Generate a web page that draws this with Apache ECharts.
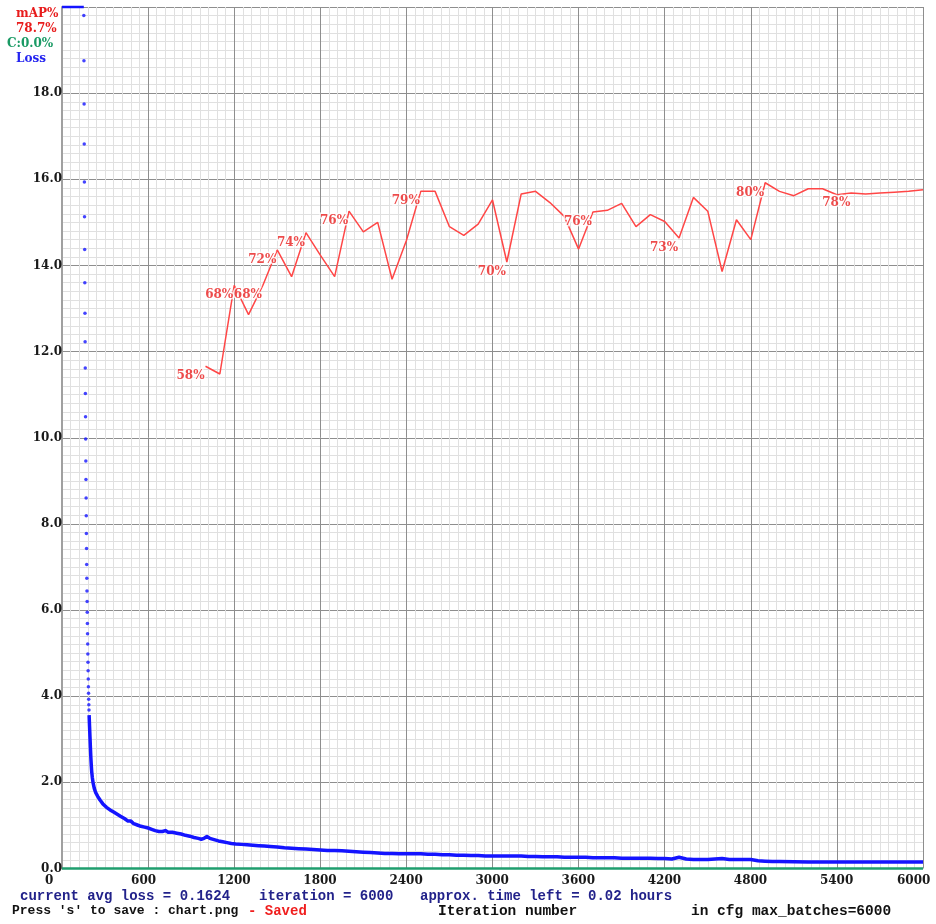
<!DOCTYPE html>
<html>
<head>
<meta charset="utf-8">
<title>chart.png</title>
<script src="https://cdn.jsdelivr.net/npm/echarts@6/dist/echarts.min.js"></script>
<style>
    html,
    body {
        margin: 0;
        padding: 0;
        background: #fff;
    }
    #chart {
        width: 936px;
        height: 924px;
    }
</style>
</head>
<body>
<div id="chart"></div>
<script>
// Darknet training chart: loss (left scale 0-20) and mAP% (0-100 mapped on the same height)

// loss above the top of the scale is drawn clamped at 20
const lossClampIters = [0, 152];
const lossClampValues = [20, 20];

// first iterations, one dot each
const lossDotIters = [152, 153, 154, 155, 156, 157, 158, 159, 160, 161, 162, 163, 164,
    165, 166, 167, 168, 169, 170, 171, 172, 173, 174, 175, 176, 177, 178, 179, 180,
    181, 182, 183, 184, 185, 186, 187, 188];
const lossDotValues = [19.80, 18.75, 17.75, 16.82, 15.94, 15.13, 14.37, 13.60, 12.89,
    12.23, 11.62, 11.03, 10.49, 9.97, 9.46, 9.03, 8.60, 8.19, 7.78, 7.43, 7.06, 6.74,
    6.44, 6.20, 5.95, 5.69, 5.45, 5.21, 4.98, 4.79, 4.59, 4.40, 4.22, 4.07, 3.93, 3.80, 3.68];

// the rest of the loss curve
const lossIters = [189, 192, 195, 198, 201, 204, 207, 211, 216, 225, 235, 250, 265, 285,
    310, 335, 360, 385, 410, 435, 460, 470, 480, 500, 525, 550, 575, 600, 625, 650, 675,
    700, 720, 740, 770, 800, 830, 860, 890, 920, 950, 970, 990, 1010, 1030, 1060, 1090,
    1120, 1150, 1180, 1210, 1250, 1290, 1330, 1370, 1410, 1450, 1500, 1550, 1600, 1650,
    1700, 1750, 1800, 1850, 1900, 1950, 2000, 2050, 2100, 2150, 2200, 2250, 2300, 2350,
    2400, 2450, 2500, 2550, 2600, 2650, 2700, 2750, 2800, 2850, 2900, 2950, 3000, 3050,
    3100, 3150, 3200, 3250, 3300, 3350, 3400, 3450, 3500, 3550, 3600, 3650, 3700, 3750,
    3800, 3850, 3900, 3950, 4000, 4050, 4100, 4150, 4200, 4250, 4300, 4350, 4400, 4450,
    4500, 4550, 4600, 4650, 4700, 4750, 4800, 4850, 4900, 4950, 5000, 5100, 5200, 5300,
    5400, 5500, 5600, 5700, 5800, 5900, 6000];
const lossValues = [3.56, 3.30, 3.05, 2.80, 2.58, 2.40, 2.25, 2.12, 2.00, 1.86, 1.76, 1.67,
    1.59, 1.50, 1.42, 1.36, 1.31, 1.26, 1.21, 1.16, 1.10, 1.07, 1.10, 1.04, 1.01, 0.98,
    0.96, 0.94, 0.91, 0.88, 0.86, 0.86, 0.88, 0.84, 0.84, 0.82, 0.80, 0.77, 0.75, 0.72,
    0.70, 0.68, 0.70, 0.74, 0.70, 0.67, 0.64, 0.62, 0.60, 0.58, 0.57, 0.56, 0.55, 0.54,
    0.53, 0.52, 0.51, 0.50, 0.48, 0.47, 0.46, 0.45, 0.44, 0.43, 0.42, 0.42, 0.41, 0.40,
    0.39, 0.38, 0.37, 0.36, 0.35, 0.35, 0.34, 0.34, 0.34, 0.34, 0.33, 0.33, 0.32, 0.32,
    0.31, 0.31, 0.30, 0.30, 0.29, 0.29, 0.29, 0.29, 0.29, 0.29, 0.28, 0.28, 0.27, 0.27,
    0.27, 0.26, 0.26, 0.26, 0.26, 0.25, 0.25, 0.25, 0.25, 0.24, 0.24, 0.24, 0.24, 0.24,
    0.23, 0.23, 0.22, 0.26, 0.22, 0.21, 0.21, 0.21, 0.22, 0.23, 0.21, 0.21, 0.21, 0.21,
    0.18, 0.17, 0.16, 0.16, 0.155, 0.15, 0.15, 0.15, 0.15, 0.15, 0.15, 0.15, 0.15, 0.15];

// contrastive accuracy, flat at 0
const contrastIters = [0, 6000];
const contrastValues = [0, 0];

// mAP% measured every 100 iterations from 1000
const mapIters = [1000, 1100, 1200, 1300, 1400, 1500, 1600, 1700, 1800, 1900, 2000, 2100,
    2200, 2300, 2400, 2500, 2600, 2700, 2800, 2900, 3000, 3100, 3200, 3300, 3400, 3500,
    3600, 3700, 3800, 3900, 4000, 4100, 4200, 4300, 4400, 4500, 4600, 4700, 4800, 4900,
    5000, 5100, 5200, 5300, 5400, 5500, 5600, 5700, 5800, 5900, 6000];
const mapValues = [58.3, 57.4, 67.7, 64.3, 67.7, 71.8, 68.7, 73.8, 71.2, 68.7, 76.3, 73.9,
    75.0, 68.4, 72.9, 78.6, 78.6, 74.5, 73.5, 74.8, 77.6, 70.4, 78.3, 78.6, 77.3, 75.7,
    71.9, 76.2, 76.4, 77.2, 74.5, 75.9, 75.1, 73.2, 77.9, 76.3, 69.3, 75.3, 73.0, 79.6,
    78.6, 78.1, 78.9, 78.9, 78.2, 78.4, 78.3, 78.4, 78.5, 78.6, 78.8];
// iterations where the chart printed the mAP value
const mapLabelIters = [1000, 1200, 1400, 1500, 1700, 2000, 2500, 3100, 3700, 4300, 4900, 5500];

const xTickStep = 600;
const yTickStep = 2;

const zip = (xs, ys) => xs.map((x, i) => [x, ys[i]]);

const chart = echarts.init(document.getElementById("chart"));

const axisFont = {
    fontFamily: "DejaVu Serif",
    fontWeight: "bold",
    fontSize: 12,
    color: "#1a1a1a",
};
const monoFont = "bold 14px 'Liberation Mono'";
const cornerFont = "bold 12px 'DejaVu Serif'";

const textItem = (left, top, text, fill, font) => ({
    type: "text",
    left,
    top,
    style: { text, fill, font: font || monoFont },
});

const options = {
    animation: false,
    backgroundColor: "#fff",
    grid: {
        left: 62,
        top: 7,
        width: 861,
        height: 861.5,
        containLabel: false,
        outerBoundsMode: "none",
    },
    xAxis: {
        type: "value",
        min: 0,
        max: 6000,
        interval: xTickStep,
        axisLine: { show: false },
        axisTick: { show: false },
        axisLabel: {
            ...axisFont,
            align: "left",
            margin: 6,
            padding: [0, 0, 0, -17],
            showMinLabel: true,
            showMaxLabel: true,
            hideOverlap: false,
            // the last label is pushed back inside the picture
            formatter: (v) => (v === 6000 ? "{last|6000}" : String(v)),
            rich: {
                last: { ...axisFont, padding: [0, 0, 0, -9] },
            },
        },
        splitLine: { show: true, lineStyle: { color: "#8e8e8e", width: 1 } },
        minorTick: { show: false, splitNumber: 10 },
        minorSplitLine: { show: true, lineStyle: { color: "#e0e0e0", width: 1 } },
    },
    yAxis: [
        {
            type: "value",
            min: 0,
            max: 20,
            interval: yTickStep,
            axisLine: { show: true, lineStyle: { color: "#a0a0a0", width: 2 } },
            axisTick: { show: false },
            axisLabel: {
                ...axisFont,
                margin: 0,
                formatter: (v) => (v === 20 ? "" : v.toFixed(1)),
            },
            splitLine: { show: true, lineStyle: { color: "#8e8e8e", width: 1 } },
            minorTick: { show: false, splitNumber: 10 },
            minorSplitLine: { show: true, lineStyle: { color: "#e0e0e0", width: 1 } },
        },
        {
            type: "value",
            min: 0,
            max: 100,
            show: false,
        },
    ],
    series: [
        {
            name: "C",
            type: "line",
            data: zip(contrastIters, contrastValues),
            showSymbol: false,
            clip: false,
            lineStyle: { color: "#1f9e6e", width: 2.5 },
            z: 3,
        },
        {
            name: "Loss clamp",
            type: "line",
            data: zip(lossClampIters, lossClampValues),
            showSymbol: false,
            clip: false,
            lineStyle: { color: "#1414ff", width: 2.5 },
            z: 4,
        },
        {
            name: "Loss dots",
            type: "scatter",
            data: zip(lossDotIters, lossDotValues),
            symbol: "circle",
            symbolSize: 3.5,
            itemStyle: { color: "#1414ff" },
            z: 4,
        },
        {
            name: "Loss",
            type: "line",
            data: zip(lossIters, lossValues),
            showSymbol: false,
            lineStyle: { color: "#1414ff", width: 3.5, join: "round" },
            z: 4,
        },
        {
            name: "mAP",
            type: "line",
            yAxisIndex: 1,
            data: zip(mapIters, mapValues),
            showSymbol: false,
            lineStyle: { color: "#ff4646", width: 1.5 },
            z: 5,
        },
        {
            name: "mAP labels",
            type: "scatter",
            yAxisIndex: 1,
            data: mapLabelIters.map((it) => [it, mapValues[mapIters.indexOf(it)]]),
            symbolSize: 0,
            label: {
                show: true,
                position: "inside",
                offset: [-15, 10],
                formatter: (p) => Math.round(p.value[1]) + "%",
                fontFamily: "DejaVu Serif",
                fontWeight: "bold",
                fontSize: 12,
                color: "#e81e1e",
                textBorderColor: "#fff",
                textBorderWidth: 3,
            },
            z: 6,
        },
    ],
    graphic: [
        textItem(16, 8, "mAP%", "#e81c1c", cornerFont),
        textItem(16, 23, "78.7%", "#e81c1c", cornerFont),
        textItem(7, 38, "C:0.0%", "#1a9a64", cornerFont),
        textItem(16, 53, "Loss", "#2424f0", cornerFont),
        textItem(20, 889, "current avg loss = 0.1624", "#22228a"),
        textItem(259, 889, "iteration = 6000", "#22228a"),
        textItem(420, 889, "approx. time left = 0.02 hours", "#22228a"),
        textItem(12, 904, "Press 's' to save : chart.png", "#111", "bold 13px 'Liberation Mono'"),
        textItem(248, 904, "- Saved", "#f01e1e"),
        textItem(438, 904, "Iteration number", "#111", "bold 14.5px 'Liberation Mono'"),
        textItem(691, 904, "in cfg max_batches=6000", "#111", "bold 14.5px 'Liberation Mono'"),
    ],
};

chart.setOption(options);
</script>
</body>
</html>
